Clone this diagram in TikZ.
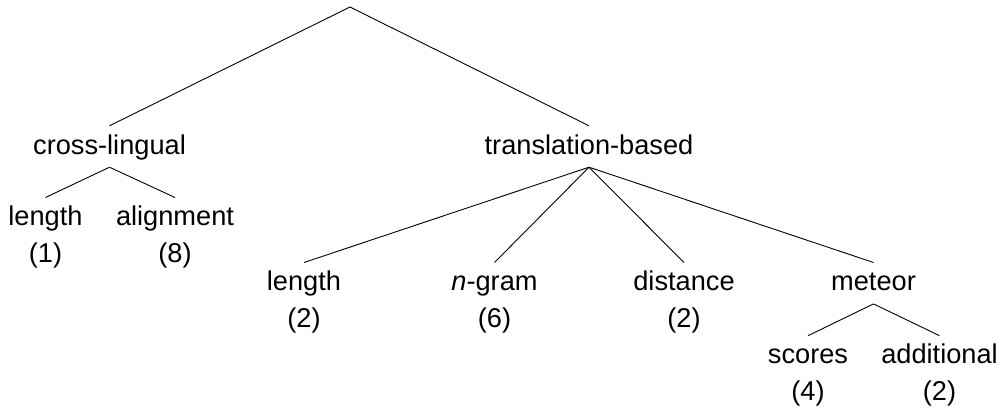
\documentclass[tikz,border=0pt]{standalone}
\usepackage{fontspec}
\setmainfont{Liberation Sans}
\begin{document}
\begin{tikzpicture}[x=1pt,y=-1pt,
  lbl/.style={font=\fontsize{27.2}{36.7}\selectfont, align=center, anchor=base,
    inner xsep=0pt, inner ysep=8pt, text height=20pt, text depth=5pt},
  leaf/.style={lbl, text height=56.7pt},
  edge/.style={line width=0.9pt, black}]
\useasboundingbox (0,0) rectangle (1003,407);
\coordinate (root) at (350,7);
\node[lbl] (cl) at (109.5,154) {cross-lingual};
\node[lbl] (tb) at (589,154) {translation-based};
\node[leaf] (cllen) at (45.5,262.4) {length\\(1)};
\node[leaf] (clal) at (175,262.4) {alignment\\(8)};
\node[leaf] (tblen) at (304,327.4) {length\\(2)};
\node[leaf] (tbng) at (494.5,327.4) {\textit{n}-gram\\(6)};
\node[leaf] (tbdi) at (684,327.4) {distance\\(2)};
\node[lbl] (tbme) at (873.5,290.7) {meteor};
\node[leaf] (mesc) at (808,400.6) {scores\\(4)};
\node[leaf] (mead) at (939.5,400.6) {additional\\(2)};
\draw[edge] (root) -- (cl.north);
\draw[edge] (root) -- (tb.north);
\draw[edge] (cl.south) -- (cllen.north);
\draw[edge] (cl.south) -- (clal.north);
\draw[edge] (tb.south) -- (tblen.north);
\draw[edge] (tb.south) -- (tbng.north);
\draw[edge] (tb.south) -- (tbdi.north);
\draw[edge] (tb.south) -- (tbme.north);
\draw[edge] (tbme.south) -- (mesc.north);
\draw[edge] (tbme.south) -- (mead.north);
\end{tikzpicture}
\end{document}
